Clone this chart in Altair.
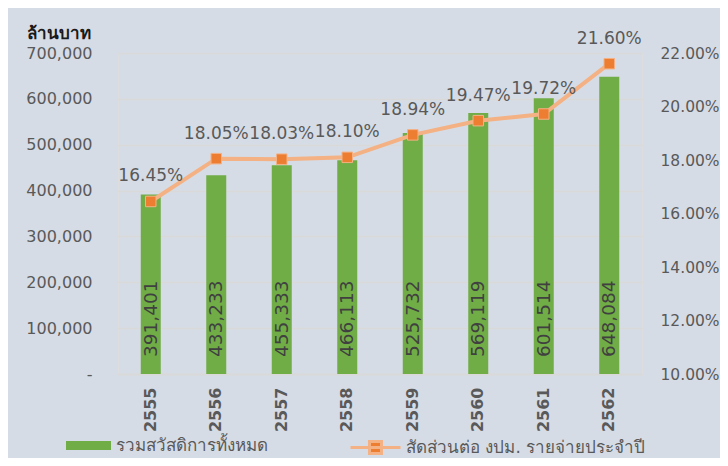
import altair as alt
import pandas as pd

years = ["2555", "2556", "2557", "2558", "2559", "2560", "2561", "2562"]
totals = [391401, 433233, 455333, 466113, 525732, 569119, 601514, 648084]
ratios = [16.45, 18.05, 18.03, 18.10, 18.94, 19.47, 19.72, 21.60]
left_ticks = [0, 100000, 200000, 300000, 400000, 500000, 600000, 700000]
right_ticks = [10, 12, 14, 16, 18, 20, 22]
bar_name = "รวมสวัสดิการทั้งหมด"
line_name = "สัดส่วนต่อ งปม. รายจ่ายประจำปี"
unit_title = "ล้านบาท"

df = pd.DataFrame({"year": years, "total": totals, "ratio": ratios})
df["s1"] = bar_name
df["s2"] = line_name

FONT = "DejaVu Sans"
GRAY = "#595959"

x = alt.X("year:N", title=None,
          axis=alt.Axis(labelAngle=270, labelFontSize=16, labelFontWeight="bold",
                        labelColor=GRAY, labelPadding=13, ticks=False, tickSize=0,
                        domainColor="#d9d9d9", domainWidth=2, grid=False))

y_left = alt.Y("total:Q", title=unit_title,
               scale=alt.Scale(domain=[0, 700000], nice=False),
               axis=alt.Axis(values=left_ticks, ticks=False, tickSize=0, domain=False,
                             grid=True, gridColor="#d9d9d9", gridWidth=1.3,
                             labelFontSize=16, labelColor=GRAY, labelPadding=26,
                             labelExpr="datum.value == 0 ? '-\u00a0\u00a0\u00a0\u00a0' : format(datum.value, ',')",
                             titleAngle=0, titleX=-92, titleY=-15, titleAlign="left",
                             titleBaseline="alphabetic", titleFontSize=17,
                             titleFontWeight="bold", titleColor="#1a1a1a"))

bars = alt.Chart(df).mark_bar(size=20).encode(
    x=x,
    y=y_left,
    color=alt.Color("s1:N", scale=alt.Scale(domain=[bar_name], range=["#70ad47"]),
                    legend=alt.Legend(title=None, orient="none", legendX=-52, legendY=370,
                                      padding=0, symbolType="M-1,-0.2L1,-0.2L1,0.2L-1,0.2Z",
                                      symbolSize=2025, symbolStrokeWidth=0,
                                      labelFontSize=17, labelColor=GRAY, labelOffset=5,
                                      labelLimit=400, labelFont=FONT)),
)

bar_text = alt.Chart(df).mark_text(angle=270, align="left", baseline="middle", dx=17,
                                   fontSize=18.5, color="#404040", font=FONT).encode(
    x=x,
    y=alt.datum(0),
    text=alt.Text("total:Q", format=","),
)

left = alt.layer(bars, bar_text)

y_right = alt.Y("ratio:Q", title=None,
                scale=alt.Scale(domain=[10, 22], nice=False),
                axis=alt.Axis(orient="right", values=right_ticks, ticks=False, tickSize=0,
                              domain=False, grid=False, labelFontSize=15.5, labelColor=GRAY,
                              labelPadding=18,
                              labelExpr="format(datum.value, '.2f') + '%'"))

line = alt.Chart(df).mark_line(strokeWidth=4).encode(
    x=x,
    y=y_right,
    stroke=alt.Stroke("s2:N", scale=alt.Scale(domain=[line_name], range=["#f4b183"]),
                      legend=alt.Legend(title=None, orient="none", legendX=231, legendY=368,
                                        padding=0,
                                        symbolType="M-1,0L1,0M-0.24,-0.24L0.24,-0.24L0.24,0.24L-0.24,0.24Z",
                                        symbolSize=2500, symbolStrokeWidth=3,
                                        symbolFillColor="#ed7d31",
                                        labelFontSize=17, labelColor=GRAY, labelOffset=4,
                                        labelLimit=400, labelFont=FONT)),
)

points = alt.Chart(df).mark_square(size=110, color="#ed7d31", opacity=1, filled=True,
                                   stroke="#f4b183", strokeWidth=1).encode(
    x=x,
    y=y_right,
)

line_text = alt.Chart(df).transform_calculate(
    lbl="format(datum.ratio, '.2f') + '%'"
).mark_text(baseline="middle", dy=-25, fontSize=17, color=GRAY, font=FONT).encode(
    x=x,
    y=y_right,
    text="lbl:N",
)

right = alt.layer(line, points, line_text)

chart = alt.layer(left, right).resolve_scale(y="independent", color="independent").properties(
    width=524, height=321,
    autosize=alt.AutoSizeParams(type="none"),
    padding={"left": 110, "top": 45, "right": 78, "bottom": 84},
    background="#d6dce5",
).configure_view(stroke=None, fill="white").configure(font=FONT)

chart.save("out.html", embed_options={"renderer": "svg", "actions": False})
